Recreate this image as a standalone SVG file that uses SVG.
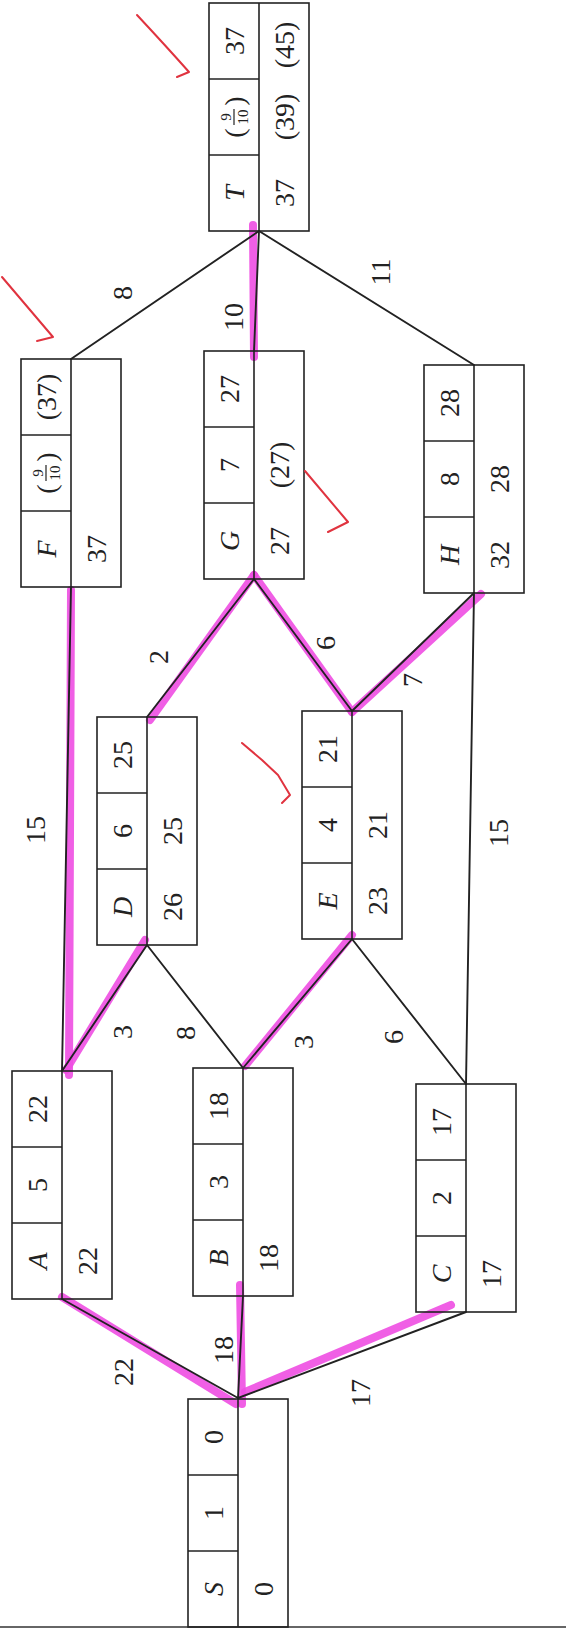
<svg xmlns="http://www.w3.org/2000/svg" xmlns:xlink="http://www.w3.org/1999/xlink" width="566" height="1629" viewBox="0 0 566 1629">
<style>
.bx{fill:none;stroke:#222;stroke-width:1.6}
.t{font-family:"Liberation Serif","Times New Roman",serif;font-size:28px;fill:#222;text-anchor:middle;dominant-baseline:central}
.it{font-style:italic}
.sm{font-size:15px}
.e{stroke:#222;stroke-width:1.9;fill:none;stroke-linecap:round}
.hl{stroke:#ee4ee2;stroke-width:8;fill:none;stroke-linecap:round;opacity:0.9}
.ck{stroke:#e0333f;stroke-width:2;fill:none;stroke-linecap:round;stroke-linejoin:round}
</style>
<defs>
<g id="box">
<rect class="bx" x="0" y="0" width="100" height="228"/>
<line class="bx" x1="50" y1="0" x2="50" y2="228"/>
<line class="bx" x1="0" y1="76" x2="50" y2="76"/>
<line class="bx" x1="0" y1="152" x2="50" y2="152"/>
</g>
<g id="frac">
<text class="t" x="-16" y="0">(</text>
<text class="t" x="16" y="0">)</text>
<text class="t sm" x="0" y="-8">9</text>
<line x1="-8" y1="0" x2="8" y2="0" stroke="#222" stroke-width="1.2"/>
<text class="t sm" x="0" y="9">10</text>
</g>
</defs>
<rect x="0" y="0" width="566" height="1629" fill="#fff"/>
<line x1="0" y1="1627" x2="566" y2="1627" stroke="#333" stroke-width="1.5"/>

<g id="highlights">
<line class="hl" x1="62" y1="1297" x2="236" y2="1404"/>
<line class="hl" x1="240" y1="1285" x2="242" y2="1404"/>
<line class="hl" x1="245" y1="1392" x2="451" y2="1305"/>
<line class="hl" x1="71" y1="590" x2="69" y2="1075"/>
<line class="hl" x1="66" y1="1070" x2="145" y2="940"/>
<line class="hl" x1="245" y1="1066" x2="352" y2="935"/>
<line class="hl" x1="150" y1="720" x2="254" y2="575"/>
<line class="hl" x1="254" y1="575" x2="352" y2="712"/>
<line class="hl" x1="352" y1="712" x2="481" y2="594"/>
<line class="hl" x1="253" y1="225" x2="254" y2="357"/>
</g>

<g id="connectors">
<line class="e" x1="238" y1="1398" x2="62" y2="1299"/>
<line class="e" x1="238" y1="1398" x2="243" y2="1296"/>
<line class="e" x1="238" y1="1398" x2="466" y2="1312"/>
<line class="e" x1="62" y1="1071" x2="71" y2="587"/>
<line class="e" x1="62" y1="1071" x2="147" y2="945"/>
<line class="e" x1="243" y1="1068" x2="147" y2="945"/>
<line class="e" x1="243" y1="1068" x2="352" y2="939"/>
<line class="e" x1="466" y1="1084" x2="352" y2="939"/>
<line class="e" x1="466" y1="1084" x2="474" y2="593"/>
<line class="e" x1="147" y1="717" x2="254" y2="579"/>
<line class="e" x1="352" y1="711" x2="254" y2="579"/>
<line class="e" x1="352" y1="711" x2="474" y2="593"/>
<line class="e" x1="71" y1="359" x2="259" y2="231"/>
<line class="e" x1="254" y1="351" x2="259" y2="231"/>
<line class="e" x1="474" y1="365" x2="259" y2="231"/>
<text class="t" transform="translate(123,1372) rotate(-90)">22</text>
<text class="t" transform="translate(223,1350) rotate(-90)">18</text>
<text class="t" transform="translate(360,1393) rotate(-90)">17</text>
<text class="t" transform="translate(35,830) rotate(-90)">15</text>
<text class="t" transform="translate(122,1032) rotate(-90)">3</text>
<text class="t" transform="translate(185,1033) rotate(-90)">8</text>
<text class="t" transform="translate(303,1042) rotate(-90)">3</text>
<text class="t" transform="translate(393,1037) rotate(-90)">6</text>
<text class="t" transform="translate(498,833) rotate(-90)">15</text>
<text class="t" transform="translate(158,657) rotate(-90)">2</text>
<text class="t" transform="translate(325,643) rotate(-90)">6</text>
<text class="t" transform="translate(412,680) rotate(-90)">7</text>
<text class="t" transform="translate(122,293) rotate(-90)">8</text>
<text class="t" transform="translate(233,317) rotate(-90)">10</text>
<text class="t" transform="translate(380,272) rotate(-90)">11</text>
</g>

<g id="node-T" transform="translate(209,3)">
<use xlink:href="#box"/>
<text class="t it" transform="translate(25,190) rotate(-90)">T</text>
<use xlink:href="#frac" transform="translate(25,114) rotate(-90)"/>
<text class="t" transform="translate(25,38) rotate(-90)">37</text>
<text class="t" transform="translate(75,190) rotate(-90)">37</text>
<text class="t" transform="translate(75,114) rotate(-90)">(39)</text>
<text class="t" transform="translate(75,42) rotate(-90)">(45)</text>
</g>

<g id="node-F" transform="translate(21,359)">
<use xlink:href="#box"/>
<text class="t it" transform="translate(25,190) rotate(-90)">F</text>
<use xlink:href="#frac" transform="translate(25,114) rotate(-90)"/>
<text class="t" transform="translate(25,38) rotate(-90)">(37)</text>
<text class="t" transform="translate(75,190) rotate(-90)">37</text>
</g>

<g id="node-G" transform="translate(204,351)">
<use xlink:href="#box"/>
<text class="t it" transform="translate(25,190) rotate(-90)">G</text>
<text class="t" transform="translate(25,114) rotate(-90)">7</text>
<text class="t" transform="translate(25,38) rotate(-90)">27</text>
<text class="t" transform="translate(75,190) rotate(-90)">27</text>
<text class="t" transform="translate(75,114) rotate(-90)">(27)</text>
</g>

<g id="node-H" transform="translate(424,365)">
<use xlink:href="#box"/>
<text class="t it" transform="translate(25,190) rotate(-90)">H</text>
<text class="t" transform="translate(25,114) rotate(-90)">8</text>
<text class="t" transform="translate(25,38) rotate(-90)">28</text>
<text class="t" transform="translate(75,190) rotate(-90)">32</text>
<text class="t" transform="translate(75,114) rotate(-90)">28</text>
</g>

<g id="node-D" transform="translate(97,717)">
<use xlink:href="#box"/>
<text class="t it" transform="translate(25,190) rotate(-90)">D</text>
<text class="t" transform="translate(25,114) rotate(-90)">6</text>
<text class="t" transform="translate(25,38) rotate(-90)">25</text>
<text class="t" transform="translate(75,190) rotate(-90)">26</text>
<text class="t" transform="translate(75,114) rotate(-90)">25</text>
</g>

<g id="node-E" transform="translate(302,711)">
<use xlink:href="#box"/>
<text class="t it" transform="translate(25,190) rotate(-90)">E</text>
<text class="t" transform="translate(25,114) rotate(-90)">4</text>
<text class="t" transform="translate(25,38) rotate(-90)">21</text>
<text class="t" transform="translate(75,190) rotate(-90)">23</text>
<text class="t" transform="translate(75,114) rotate(-90)">21</text>
</g>

<g id="node-A" transform="translate(12,1071)">
<use xlink:href="#box"/>
<text class="t it" transform="translate(25,190) rotate(-90)">A</text>
<text class="t" transform="translate(25,114) rotate(-90)">5</text>
<text class="t" transform="translate(25,38) rotate(-90)">22</text>
<text class="t" transform="translate(75,190) rotate(-90)">22</text>
</g>

<g id="node-B" transform="translate(193,1068)">
<use xlink:href="#box"/>
<text class="t it" transform="translate(25,190) rotate(-90)">B</text>
<text class="t" transform="translate(25,114) rotate(-90)">3</text>
<text class="t" transform="translate(25,38) rotate(-90)">18</text>
<text class="t" transform="translate(75,190) rotate(-90)">18</text>
</g>

<g id="node-C" transform="translate(416,1084)">
<use xlink:href="#box"/>
<text class="t it" transform="translate(25,190) rotate(-90)">C</text>
<text class="t" transform="translate(25,114) rotate(-90)">2</text>
<text class="t" transform="translate(25,38) rotate(-90)">17</text>
<text class="t" transform="translate(75,190) rotate(-90)">17</text>
</g>

<g id="node-S" transform="translate(188,1399)">
<use xlink:href="#box"/>
<text class="t it" transform="translate(25,190) rotate(-90)">S</text>
<text class="t" transform="translate(25,114) rotate(-90)">1</text>
<text class="t" transform="translate(25,38) rotate(-90)">0</text>
<text class="t" transform="translate(75,190) rotate(-90)">0</text>
</g>

<g id="checkmarks">
<path class="ck" d="M137,15 Q165,45 189,72 L177,77"/>
<path class="ck" d="M2,277 Q30,310 53,337 L37,341"/>
<path class="ck" d="M305,471 L348,522 L328,532"/>
<path class="ck" d="M242,743 L262,760 L278,775 L290,795 L282,803"/>
</g>
</svg>
